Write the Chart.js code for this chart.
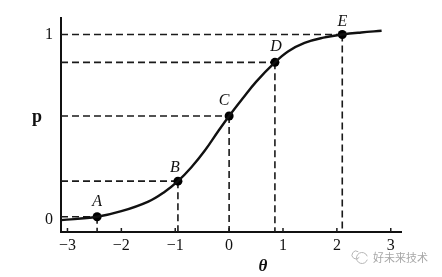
<!DOCTYPE html>
<html>
<head>
<meta charset="utf-8">
<script src="https://cdn.jsdelivr.net/npm/chart.js@4.4.1/dist/chart.umd.min.js"></script>
<style>
  html, body { margin: 0; padding: 0; background: #fff; }
</style>
</head>
<body>
<canvas id="myChart" width="442" height="277"></canvas>
<script>
// item curve (theta -> p)
const curveTheta = [-3.12, -2.45, -2.0, -1.5, -1.2, -0.95, -0.7, -0.45, -0.2, 0, 0.25, 0.5, 0.85, 1.1, 1.4, 1.75, 2.1, 2.45, 2.83];
const curveP = [0.0, 0.018, 0.048, 0.1, 0.152, 0.21, 0.285, 0.375, 0.48, 0.561, 0.655, 0.745, 0.85, 0.91, 0.955, 0.983, 1.0, 1.011, 1.02];

// marked points
const pointNames = ['A', 'B', 'C', 'D', 'E'];
const pointTheta = [-2.45, -0.95, 0, 0.85, 2.1];
const pointP = [0.018, 0.21, 0.561, 0.85, 1.0];

// axes
const xTicks = [-3, -2, -1, 0, 1, 2, 3];
const yTicks = [0, 1];
const yTickLabels = ['0', '1'];
const xTitle = '\u03b8';
const yTitle = 'p';
const watermark = '好未来技术';

// label nudges (px) for A..E
const labelNudge = [[0, -15], [-3, -13], [-5, -15], [1, -16], [0, -13]];

const SERIF = '"Liberation Serif", "DejaVu Serif", serif';

const marks = {
    id: 'marks',
    beforeDatasetsDraw(chart) {
        const { ctx, scales: { x, y } } = chart;
        const left = x.left, bottom = y.bottom;
        ctx.save();
        ctx.strokeStyle = '#1a1a1a';
        ctx.lineWidth = 1.6;
        ctx.setLineDash([7, 4]);
        pointTheta.forEach((t, i) => {
            const px = x.getPixelForValue(t);
            const py = y.getPixelForValue(pointP[i]);
            ctx.beginPath();
            ctx.moveTo(left, py);
            ctx.lineTo(px, py);
            ctx.stroke();
            ctx.beginPath();
            ctx.moveTo(px, py);
            ctx.lineTo(px, bottom);
            ctx.stroke();
        });
        ctx.setLineDash([]);
        // little inward ticks on the x axis
        ctx.lineWidth = 1.5;
        xTicks.forEach(v => {
            const px = x.getPixelForValue(v);
            ctx.beginPath();
            ctx.moveTo(px, bottom);
            ctx.lineTo(px, bottom - 4);
            ctx.stroke();
        });
        ctx.restore();
    },
    afterDatasetsDraw(chart) {
        const { ctx, scales: { x, y } } = chart;
        const meta = chart.getDatasetMeta(1);
        ctx.save();
        ctx.fillStyle = '#111';
        ctx.textAlign = 'center';
        ctx.textBaseline = 'middle';
        ctx.font = 'italic 16px ' + SERIF;
        meta.data.forEach((pt, i) => {
            ctx.fillText(pointNames[i], pt.x + labelNudge[i][0], pt.y + labelNudge[i][1]);
        });

        // p label at the level of C
        ctx.font = 'bold 18px ' + SERIF;
        ctx.fillText(yTitle, 37, y.getPixelForValue(pointP[2]) + 1);

        // theta title under the axis
        ctx.font = 'bold italic 17px ' + SERIF;
        ctx.fillText(xTitle, 263, 267);

        // watermark
        ctx.strokeStyle = '#b5b5b5';
        ctx.lineWidth = 1;
        ctx.beginPath();
        ctx.arc(362, 258, 5.5, 0.3, Math.PI * 1.9);
        ctx.stroke();
        ctx.beginPath();
        ctx.arc(356, 255, 4, 0.6, Math.PI * 1.7);
        ctx.stroke();
        ctx.fillStyle = '#a8a8a8';
        ctx.textAlign = 'left';
        ctx.font = '11px "Noto Sans CJK SC", sans-serif';
        ctx.fillText(watermark, 373, 258);
        ctx.restore();
    }
};

const ctx = document.getElementById('myChart');
new Chart(ctx, {
    type: 'line',
    data: {
        datasets: [{
            data: curveTheta.map((t, i) => ({ x: t, y: curveP[i] })),
            borderColor: '#111',
            borderWidth: 2.4,
            pointRadius: 0,
            tension: 0.4,
            fill: false
        }, {
            data: pointTheta.map((t, i) => ({ x: t, y: pointP[i] })),
            showLine: false,
            pointRadius: 4.5,
            pointBackgroundColor: '#000',
            pointBorderColor: '#000',
            pointBorderWidth: 0
        }]
    },
    options: {
        responsive: false,
        animation: false,
        devicePixelRatio: 1,
        clip: false,
        layout: { padding: { top: 16, right: 41, left: 0, bottom: 0 } },
        plugins: { legend: { display: false }, tooltip: { enabled: false } },
        scales: {
            x: {
                type: 'linear',
                min: -3.12,
                max: 3.19,
                afterBuildTicks: s => { s.ticks = xTicks.map(v => ({ value: v })); },
                afterFit: s => { s.height = 45; },
                grid: { display: false, drawTicks: false },
                border: { display: true, color: '#111', width: 2 },
                ticks: {
                    padding: 4,
                    color: '#111',
                    font: { family: SERIF, size: 16 },
                    callback: v => v < 0 ? '\u2212' + Math.abs(v) : String(v)
                }
            },
            y: {
                min: -0.064,
                max: 1.091,
                afterBuildTicks: s => { s.ticks = yTicks.map(v => ({ value: v })); },
                afterFit: s => { s.width = 61; },
                grid: { display: false, drawTicks: false },
                border: { display: true, color: '#111', width: 2 },
                ticks: {
                    padding: 8,
                    color: '#111',
                    font: { family: SERIF, size: 16 },
                    callback: v => yTickLabels[yTicks.indexOf(v)]
                }
            }
        }
    },
    plugins: [marks]
});
</script>
</body>
</html>
